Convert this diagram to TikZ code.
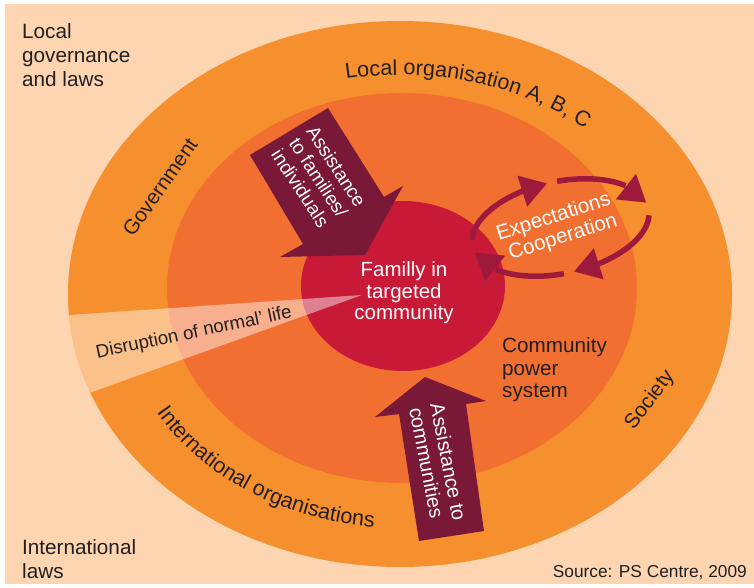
\documentclass[tikz,border=0pt]{standalone}
\usepackage{fontspec}
\setmainfont{Liberation Sans}
\usetikzlibrary{arrows.meta,bending,decorations.text}
\definecolor{peach}{HTML}{FDD5B1}
\definecolor{outerorange}{HTML}{F68F2D}
\definecolor{midorange}{HTML}{F26F32}
\definecolor{famred}{HTML}{C81A37}
\definecolor{arrowmaroon}{HTML}{7A1838}
\definecolor{cyclered}{HTML}{9E1A3C}
\definecolor{darktext}{HTML}{231F20}
\newcommand{\lblfont}{\fontsize{20.7}{24}\selectfont}
\newcommand{\curvefont}{\fontsize{21.6}{24}\selectfont}
\begin{document}
\begin{tikzpicture}[x=1pt,y=1pt,
  ringlabel/.style={font=\lblfont, text=darktext, inner sep=0pt},
  whitelabel/.style={font=\lblfont, text=white, inner sep=0pt},
  blockarrow/.style={fill=arrowmaroon},
  cyclearrow/.style={draw=cyclered, line width=5.5pt, -{Triangle[length=26pt,width=31pt]}},
  ringtext/.style={decorate, decoration={text along path, text color=darktext, text={|\curvefont|#1}}}
]
\useasboundingbox (0,0) rectangle (754,587);
\fill[white] (0,0) rectangle (754,587);
\fill[peach] (5,3) rectangle (754,583);
% rings
\fill[outerorange] (400,293) ellipse [x radius=332pt, y radius=273pt];
\fill[midorange] (402,299) ellipse [x radius=235pt, y radius=195pt];
\fill[famred] (403,301) ellipse [x radius=102pt, y radius=85pt];
% disruption wedge
\begin{scope}
  \clip (400,293) ellipse [x radius=332pt, y radius=273pt];
  \fill[white, fill opacity=0.45] (362,292) -- (20,268.6) -- (20,169.1) -- cycle;
\end{scope}
% block arrows
\fill[blockarrow] (250,432) -- (328,479) -- (384,390) -- (403,401) -- (365,332) -- (280,330) -- (303,343) -- cycle;
\fill[blockarrow] (419,46) -- (399,173) -- (375,170) -- (425,210) -- (486,186) -- (466,183) -- (484,56) -- cycle;
% cycle arrows
\begin{scope}[shift={(560.5,359.5)}, rotate=12]
  \coordinate (c1) at (172:90pt and 46pt);
  \coordinate (c2) at (86:90pt and 46pt);
  \coordinate (c3) at (-8:90pt and 46pt);
  \coordinate (c4) at (-94:90pt and 46pt);
  \draw[cyclearrow] (c1) arc[start angle=172, end angle=92.5, x radius=90pt, y radius=46pt];
  \draw[cyclearrow] (c2) arc[start angle=86, end angle=8, x radius=90pt, y radius=46pt];
  \draw[cyclearrow] (c3) arc[start angle=-8, end angle=-87.5, x radius=90pt, y radius=46pt];
  \draw[cyclearrow] (c4) arc[start angle=-94, end angle=-172, x radius=90pt, y radius=46pt];
\end{scope}
% texts
\node[whitelabel, font=\fontsize{19}{21}\selectfont, align=left, rotate=-57] (famassist) at (319,409) {Assistance\\to families/\\individuals};
\node[whitelabel, font=\fontsize{20}{21.5}\selectfont, align=left, rotate=-79] (comassist) at (438,123) {Assistance to\\communities};
\node[whitelabel, font=\fontsize{20.5}{21.5}\selectfont, align=center] (famtext) at (404,294) {Familly in\\targeted\\community};
\node[whitelabel, font=\fontsize{20.7}{22}\selectfont, align=right, rotate=17.5] (expect) at (557,359) {Expectations\\Cooperation};
\node[ringlabel, font=\fontsize{20.7}{22.5}\selectfont, align=left, anchor=west] (power) at (502,217) {Community\\power\\system};
\node[ringlabel, rotate=55] (gov) at (160,400) {Government};
\node[ringlabel, rotate=53] (soc) at (650,187) {Society};
\node[ringlabel, font=\fontsize{18.6}{20}\selectfont, rotate=11.8, anchor=base] (disrupt) at (195,249) {Disruption of normal’ life};
\node[ringlabel, align=left, anchor=north west] (localgov) at (22,564) {Local\\governance\\and laws};
\node[ringlabel, align=left, anchor=north west] (intlaws) at (22,48) {International\\laws};
\node[ringlabel, font=\fontsize{17.3}{20}\selectfont, anchor=base east] (source) at (747,10) {Source: PS Centre, 2009};
% curved ring labels
\coordinate (toptextstart) at (346,508);
\coordinate (bottextstart) at (156.6,174.2);
\path[ringtext={Local organisation A, B, C}] (toptextstart) arc[start angle=101, end angle=30, x radius=283pt, y radius=219pt];
\path[ringtext={International organisations}] (bottextstart) arc[start angle=210.5, end angle=285, x radius=282.5pt, y radius=234pt];
\end{tikzpicture}
\end{document}
